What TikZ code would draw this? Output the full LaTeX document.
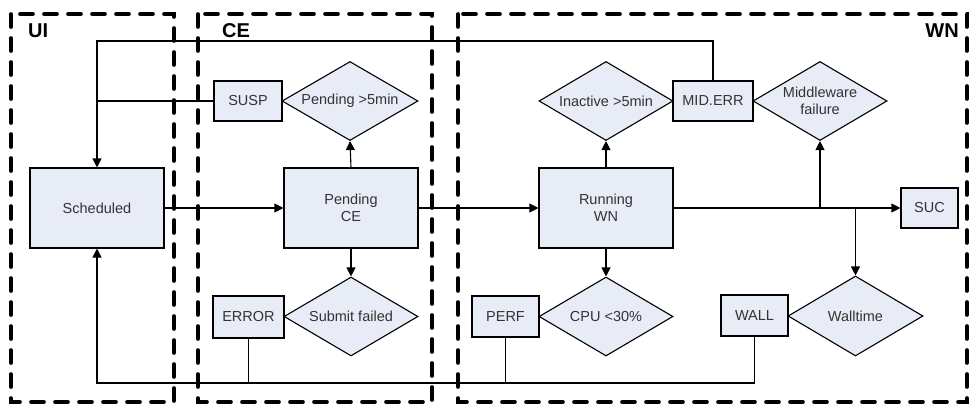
\documentclass[tikz,border=0pt]{standalone}
\usepackage{fontspec}
\setmainfont{Liberation Sans}
\usetikzlibrary{shapes.geometric,arrows.meta}
\definecolor{boxfill}{HTML}{E8ECF7}
\definecolor{txt}{HTML}{333333}
\tikzset{
  every node/.style={font=\fontsize{14.5}{17}\selectfont, text=txt},
  statebox/.style={draw=black, fill=boxfill, line width=1.1pt, inner sep=0pt, rectangle, align=center},
  decision/.style={draw=black, fill=boxfill, line width=1.1pt, inner sep=0pt, diamond, aspect=1.7, align=center},
  conn/.style={line width=1.1pt, draw=black},
  arr/.style={conn, -{Triangle[length=9pt,width=9pt]}},
  zone/.style={draw=black, line width=3.6pt, line cap=round, dash pattern=on 13pt off 11pt},
  zonelabel/.style={font=\fontsize{20}{24}\selectfont\bfseries, text=black, inner sep=0pt}
}
\begin{document}
\begin{tikzpicture}[x=1pt,y=-1pt]
\useasboundingbox (0,0) rectangle (969,404);
% zones
\draw[zone] (11,14) rectangle (174,402);
\draw[zone] (198,14) rectangle (432,402);
\draw[zone] (458,14) rectangle (967,402);
\node[zonelabel, anchor=base west] (lui) at (28,38) {UI};
\node[zonelabel, anchor=base west] (lce) at (222,38) {CE};
\node[zonelabel, anchor=base east] (lwn) at (959,38) {WN};
% nodes
\node[statebox, minimum width=134pt, minimum height=80pt] (sched) at (97,208) {Scheduled};
\node[statebox, minimum width=134pt, minimum height=80pt] (pce) at (351,208) {Pending\\CE};
\node[statebox, minimum width=134pt, minimum height=80pt] (run) at (606,208) {Running\\WN};
\node[statebox, minimum width=68pt, minimum height=40pt] (susp) at (248,101) {SUSP};
\node[decision, minimum width=136pt, minimum height=79pt] (pend) at (350,101) {Pending >5min};
\node[decision, minimum width=134pt, minimum height=79pt] (inact) at (606,101) {Inactive >5min};
\node[statebox, minimum width=80pt, minimum height=40pt] (mid) at (713,101) {MID.ERR};
\node[decision, minimum width=134pt, minimum height=79pt] (mwf) at (820,101) {Middleware\\failure};
\node[statebox, minimum width=57pt, minimum height=40pt] (suc) at (929.5,208) {SUC};
\node[decision, minimum width=134pt, minimum height=79pt] (subf) at (351,316.5) {Submit failed};
\node[statebox, minimum width=71pt, minimum height=42pt] (err) at (248.5,317) {ERROR};
\node[decision, minimum width=134pt, minimum height=79pt] (cpu) at (606,316.5) {CPU <30\%};
\node[statebox, minimum width=67pt, minimum height=41pt] (perf) at (505.5,316.5) {PERF};
\node[statebox, minimum width=67pt, minimum height=41pt] (wall) at (754.5,315.5) {WALL};
\node[decision, minimum width=135pt, minimum height=80pt] (walltime) at (855.5,316) {Walltime};
% coordinates
\coordinate (topR) at (713,41);
\coordinate (topL) at (97,41);
\coordinate (suspJ) at (97,101);
\coordinate (botL) at (97,383);
\coordinate (botR) at (754.5,383);
\coordinate (brM) at (820,208);
\coordinate (brW) at (855.5,208);
% connectors
\draw[arr] (sched.east) -- (pce.west);
\draw[arr] (pce.east) -- (run.west);
\draw[arr] (run.east) -- (suc.west);
\draw[arr] (pce.north) -- (pend.south);
\draw[arr] (pce.south) -- (subf.north);
\draw[arr] (run.north) -- (inact.south);
\draw[arr] (run.south) -- (cpu.north);
\draw[arr] (brM) -- (mwf.south);
\draw[arr] (brW) -- (walltime.north);
\draw[arr] (mid.north) -- (topR) -- (topL) -- (sched.north);
\draw[conn] (susp.west) -- (suspJ);
\draw[arr] (wall.south) -- (botR) -- (botL) -- (sched.south);
\draw[conn] (err.south) -- (err.south |- botL);
\draw[conn] (perf.south) -- (perf.south |- botL);
\end{tikzpicture}
\end{document}
